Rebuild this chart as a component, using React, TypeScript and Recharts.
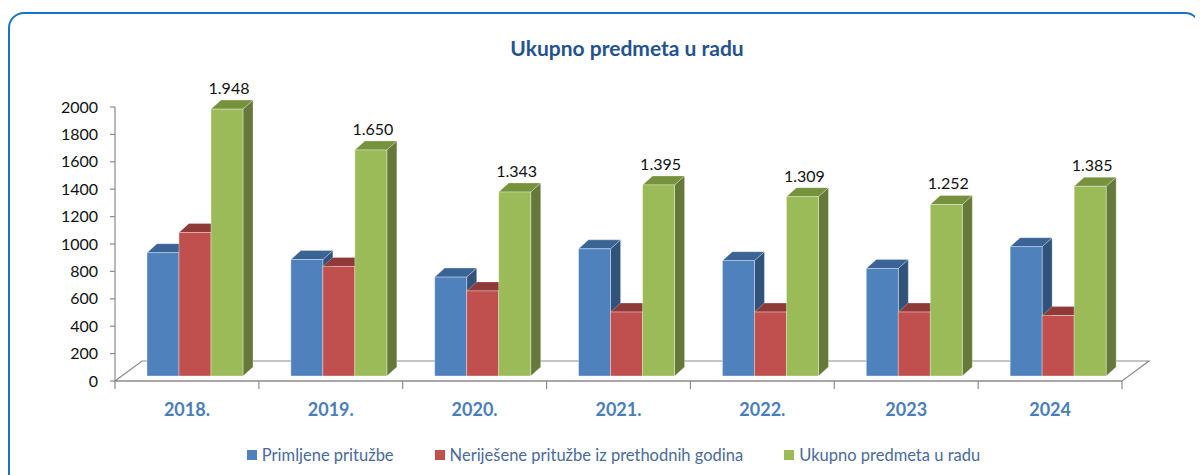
import React from "react"
import { BarChart, Bar, XAxis, YAxis, Legend, LabelList, ReferenceArea } from "recharts"

const years = ["2018.", "2019.", "2020.", "2021.", "2022.", "2023", "2024"]
const primljene = [900, 850, 722, 928, 842, 785, 944]
const neriesene = [1048, 800, 621, 467, 467, 467, 441]
const ukupno = [1948, 1650, 1343, 1395, 1309, 1252, 1385]
const yTicks = [0, 200, 400, 600, 800, 1000, 1200, 1400, 1600, 1800, 2000]

const seriesNames = ["Primljene pritužbe", "Neriješene pritužbe iz prethodnih godina", "Ukupno predmeta u radu"]

const data = years.map((year, i) => ({
  year,
  primljene: primljene[i],
  neriesene: neriesene[i],
  ukupno: ukupno[i],
}))

const FONT = "Lato, 'Open Sans', sans-serif"
const AXIS = "#8c8c8c"
// 3d look: bars sit a bit behind the front edge of the floor
const SHIFT_X = 8
const SHIFT_Y = 5
const DX = 10
const DY = 9

function bar3D(front: string, top: string, side: string) {
  return (props: any) => {
    const { x, y, width, height } = props
    if (x == null || y == null) return <g />
    const fx = x + SHIFT_X
    const fy = y - SHIFT_Y
    const w = width
    const h = height
    return (
      <g>
        <polygon
          points={`${fx + w},${fy} ${fx + w + DX},${fy - DY} ${fx + w + DX},${fy + h - DY} ${fx + w},${fy + h}`}
          fill={side}
          stroke="rgba(255,255,255,0.35)"
          strokeWidth={0.8}
        />
        <polygon
          points={`${fx},${fy} ${fx + DX},${fy - DY} ${fx + w + DX},${fy - DY} ${fx + w},${fy}`}
          fill={top}
          stroke="rgba(255,255,255,0.35)"
          strokeWidth={0.8}
        />
        <rect x={fx} y={fy} width={w} height={h} fill={front} stroke="rgba(255,255,255,0.45)" strokeWidth={0.8} />
      </g>
    )
  }
}

function Floor(props: any) {
  const { x, y, width, height } = props
  const d = 27
  return (
    <polygon
      points={`${x},${y + height} ${x + width},${y + height} ${x + width + d},${y} ${x + d},${y}`}
      fill="#fff"
      stroke={AXIS}
      strokeWidth={1.2}
    />
  )
}

function YearTick(props: any) {
  const { x, y, payload, index, visibleTicksCount, width } = props
  const half = payload.offset || width / visibleTicksCount / 2
  return (
    <g>
      <line x1={x - half} y1={y} x2={x - half} y2={y + 8} stroke={AXIS} strokeWidth={1.2} />
      {index === visibleTicksCount - 1 && (
        <line x1={x + half} y1={y} x2={x + half} y2={y + 8} stroke={AXIS} strokeWidth={1.2} />
      )}
      <text x={x} y={y + 35} textAnchor="middle" fill="#4a7ebb" fontWeight={700} fontSize={18} fontFamily={FONT}>
        {payload.value}
      </text>
    </g>
  )
}

function ValueLabel(props: any) {
  const { x, y, width, value } = props
  return (
    <text
      x={x + SHIFT_X + width / 2 + 2}
      y={y - SHIFT_Y - DY - 6}
      textAnchor="middle"
      fill="#111"
      fontSize={16}
      fontFamily={FONT}
    >
      {Number(value).toLocaleString("de-DE")}
    </text>
  )
}

function LegendContent(props: any) {
  const items = [...(props.payload || [])].sort(
    (a: any, b: any) => seriesNames.indexOf(a.value) - seriesNames.indexOf(b.value)
  )
  return (
    <div style={{ display: "flex", justifyContent: "center", alignItems: "center", height: 24, fontFamily: FONT }}>
      {items.map((entry: any, i: number) => (
        <div key={i} style={{ display: "flex", alignItems: "center", marginRight: i < items.length - 1 ? 41 : 0 }}>
          <span style={{ width: 10, height: 10, background: entry.color, display: "inline-block", marginRight: 5 }} />
          <span style={{ color: "#4a6a9b", fontSize: 16.5 }}>{entry.value}</span>
        </div>
      ))}
    </div>
  )
}

export default function App() {
  return (
    <div style={{ position: "relative", width: 1195, height: 467, overflow: "hidden" }}>
      <div
        style={{
          position: "absolute",
          left: 0,
          top: 4,
          width: 1193,
          height: 490,
          border: "2.5px solid #1a73c2",
          borderRadius: 16,
          boxSizing: "border-box",
        }}
      />
      <div
        style={{
          position: "absolute",
          left: 0,
          width: 1238,
          top: 27,
          textAlign: "center",
          fontFamily: FONT,
          fontWeight: 700,
          fontSize: 21,
          color: "#24528f",
        }}
      >
        Ukupno predmeta u radu
      </div>
      <div style={{ position: "absolute", left: 0, top: 0 }}>
        <BarChart
          width={1195}
          height={467}
          data={data}
          margin={{ top: 99, right: 81, bottom: 8, left: 47 }}
          barCategoryGap={24}
          barGap={0}
        >
          <XAxis
            dataKey="year"
            stroke={AXIS}
            strokeWidth={1.2}
            tickLine={false}
            tickSize={0}
            tickMargin={0}
            height={62}
            tick={<YearTick />}
            interval={0}
          />
          <YAxis
            domain={[0, 2000]}
            ticks={yTicks}
            interval={0}
            width={60}
            stroke={AXIS}
            strokeWidth={1.2}
            tickSize={5}
            tickMargin={12}
            tick={{ fill: "#111", fontSize: 16, fontFamily: FONT }}
          />
          <ReferenceArea y1={0} y2={146} shape={<Floor />} zIndex={-10} ifOverflow="visible" />
          <Legend verticalAlign="bottom" content={<LegendContent />} wrapperStyle={{ left: 8, width: 1195 }} />
          <Bar
            dataKey="primljene"
            name={seriesNames[0]}
            fill="#4f81bd"
            shape={bar3D("#4f81bd", "#3a6496", "#30527b")}
            isAnimationActive={false}
          />
          <Bar
            dataKey="neriesene"
            name={seriesNames[1]}
            fill="#c0504d"
            shape={bar3D("#c0504d", "#8f3a38", "#7c302e")}
            isAnimationActive={false}
          />
          <Bar
            dataKey="ukupno"
            name={seriesNames[2]}
            fill="#9bbb59"
            shape={bar3D("#9bbb59", "#76923c", "#65793a")}
            isAnimationActive={false}
          >
            <LabelList dataKey="ukupno" content={<ValueLabel />} />
          </Bar>
        </BarChart>
      </div>
    </div>
  )
}
